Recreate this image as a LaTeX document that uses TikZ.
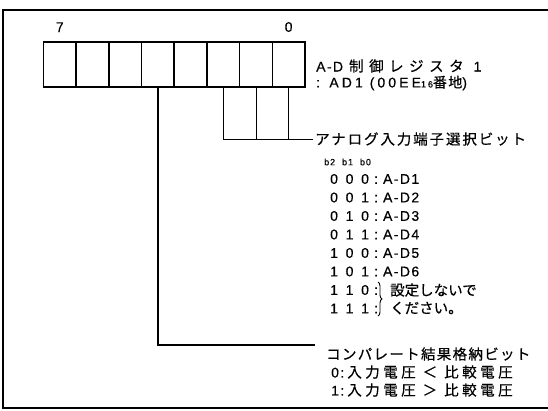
\documentclass[tikz,border=0pt]{standalone}
\usepackage{fontspec}
\setmainfont{Liberation Sans}[LetterSpace=10, FakeBold=0.4]
\newfontfamily\jpfont[LetterSpace=13, FakeBold=0.4]{Noto Sans CJK JP}
\usetikzlibrary{positioning, decorations.pathreplacing}

% one row of the bit table: b2 b1 b0 : text
\newcommand{\bitrow}[4]{\makebox[15.5pt][l]{#1}\makebox[15.5pt][l]{#2}\makebox[13pt][l]{#3}:\hspace{5pt}#4}
% extra letter spacing for the wider labels
\newcommand{\wide}[1]{\addfontfeature{LetterSpace=#1}}

\begin{document}
\begin{tikzpicture}[x=1pt, y=-1pt,
    bitcell/.style={
        draw,
        line width=1.6pt,
        minimum width=32.7pt,
        minimum height=45pt,
        inner sep=0pt
    },
    bitnum/.style={inner sep=0pt, font=\fontsize{14}{16}\selectfont},
    lbl/.style={anchor=west, inner sep=0pt, font=\fontsize{14}{16}\selectfont},
    jlbl/.style={anchor=west, inner sep=0pt, font=\fontsize{14.5}{16}\jpfont},
    small/.style={anchor=west, inner sep=0pt, font=\fontsize{9}{10}\selectfont},
    wire/.style={line width=0.9pt}
]
\useasboundingbox (0,0) rectangle (548,410);

% frame, open on the right
\draw[line width=1.8pt] (548,10) -- (3,10) -- (3,408) -- (548,408);

% register cells, bit 7 on the left
\foreach \i in {0,...,7}
  \node[bitcell] (b\i) at ({305-(\i+0.5)*32.7}, 64.5) {};

\node[bitnum, above=9pt of b7] (n7) {7};
\node[bitnum, above=9pt of b0] (n0) {0};

% register name
\node[lbl] (reg) at (316,66) {A-D\hspace{6pt}{\fontsize{14.5}{16}\jpfont\wide{38}制御レジスタ}\hspace{10pt}1};
\node[lbl] (addr) at (316,83) {\wide{22}: AD1 (00EE{\fontsize{9}{10}\selectfont 16}{\jpfont\wide{10}番地})};

% analog input select bits b2..b0
\node[jlbl, inner xsep=2pt] (sel) at (313,139) {アナログ入力端子選択ビット};
\draw[wire] (b2.south) |- (sel.west);
\foreach \i in {1,0}
  \draw[wire] (b\i.south) -- (b\i.south |- sel.west);

\node[small] (bhead) at (324,162) {b2\hspace{7pt}b1\hspace{7pt}b0};
\foreach \x/\y/\z/\t [count=\k] in {0/0/0/A-D1, 0/0/1/A-D2, 0/1/0/A-D3,
    0/1/1/A-D4, 1/0/0/A-D5, 1/0/1/A-D6, 1/1/0/{}, 1/1/1/{}}
  \node[lbl] (row\k) at (330, {179+(\k-1)*18.5}) {\bitrow{\x}{\y}{\z}{\t}};

\draw[wire, decorate, decoration={brace, amplitude=4pt}] (378,282) -- (378,316);
\node[jlbl] (nouse1) at (390,290) {\wide{0}設定しないで};
\node[jlbl] (nouse2) at (390,308) {\wide{0}ください。};

% comparator result bit b4
\coordinate (cmpend) at (315,345);
\draw[line width=1.3pt] (b4.south) |- (cmpend);
\node[jlbl] (cmp) at (326,354) {\wide{9}コンパレート結果格納ビット};
\node[lbl] (lt) at (331,372) {0:\hspace{3pt}{\fontsize{14.5}{16}\jpfont\wide{24}入力電圧\hspace{7pt}＜\hspace{7pt}比較電圧}};
\node[lbl] (gt) at (331,390) {1:\hspace{3pt}{\fontsize{14.5}{16}\jpfont\wide{24}入力電圧\hspace{7pt}＞\hspace{7pt}比較電圧}};

\end{tikzpicture}
\end{document}
